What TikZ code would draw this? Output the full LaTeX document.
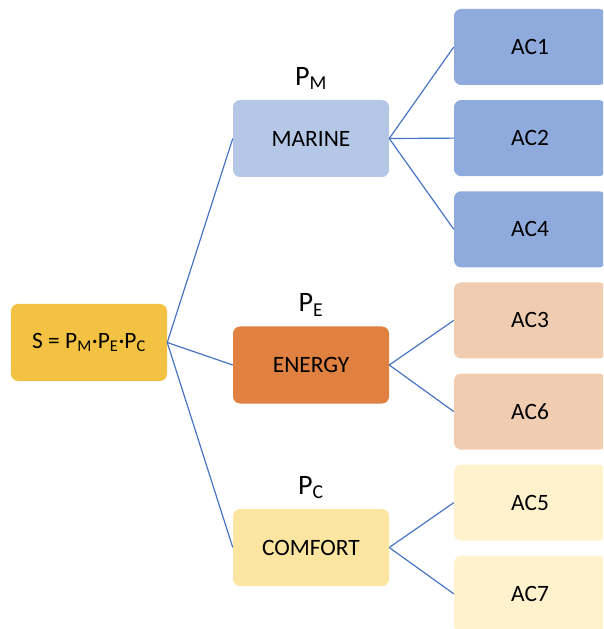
\documentclass[tikz,border=0pt]{standalone}
\usepackage{fontspec}
\setmainfont{Carlito}
\usetikzlibrary{positioning}
\definecolor{linkblue}{RGB}{68,114,196}
\definecolor{rootgold}{RGB}{243,194,66}
\definecolor{marinefill}{RGB}{180,199,231}
\definecolor{marineac}{RGB}{143,170,220}
\definecolor{energyfill}{RGB}{224,129,66}
\definecolor{energyac}{RGB}{240,204,176}
\definecolor{comfortfill}{RGB}{251,229,160}
\definecolor{comfortac}{RGB}{255,242,204}
\tikzset{
  catbox/.style={rounded corners=6pt,minimum width=4.68cm,minimum height=2.31cm,
    align=center,font=\fontsize{20}{22}\selectfont},
  acbox/.style={rounded corners=6pt,minimum width=4.56cm,minimum height=2.28cm,
    align=center,font=\fontsize{20}{22}\selectfont},
  plabel/.style={inner sep=0pt,font=\fontsize{24}{26}\selectfont},
  link/.style={draw=linkblue,line width=1pt},
}

\begin{document}
\begin{tikzpicture}[x=0.03cm,y=-0.03cm,node distance=0.44cm]
    \useasboundingbox (0,0) rectangle (603,629);
    \clip (0,0) rectangle (603,629);
    % main boxes
    \node[catbox,fill=rootgold] (root) at (89,342.5)
      {S = P\textsubscript{M}\textperiodcentered P\textsubscript{E}\textperiodcentered P\textsubscript{C}};
    \node[catbox,fill=marinefill] (marine) at (311,138.5) {MARINE};
    \node[catbox,fill=energyfill] (energy) at (311,365) {ENERGY};
    \node[catbox,fill=comfortfill] (comfort) at (311,547.5) {COMFORT};
    \node[plabel,above=0.3cm of marine] (pm) {P\textsubscript{M}};
    \node[plabel,above=0.3cm of energy] (pe) {P\textsubscript{E}};
    \node[plabel,above=0.3cm of comfort] (pc) {P\textsubscript{C}};
    % criteria
    \node[acbox,fill=marineac] (ac1) at (530,47) {AC1};
    \node[acbox,fill=marineac,below=of ac1] (ac2) {AC2};
    \node[acbox,fill=marineac,below=of ac2] (ac4) {AC4};
    \node[acbox,fill=energyac,below=of ac4] (ac3) {AC3};
    \node[acbox,fill=energyac,below=of ac3] (ac6) {AC6};
    \node[acbox,fill=comfortac,below=of ac6] (ac5) {AC5};
    \node[acbox,fill=comfortac,below=of ac5] (ac7) {AC7};
    % links
    \foreach \cat in {marine,energy,comfort}
      \draw[link] (root.east) -- (\cat.west);
    \foreach \ac in {ac1,ac2,ac4}
      \draw[link] (marine.east) -- (\ac.west);
    \foreach \ac in {ac3,ac6}
      \draw[link] (energy.east) -- (\ac.west);
    \foreach \ac in {ac5,ac7}
      \draw[link] (comfort.east) -- (\ac.west);
\end{tikzpicture}
\end{document}
